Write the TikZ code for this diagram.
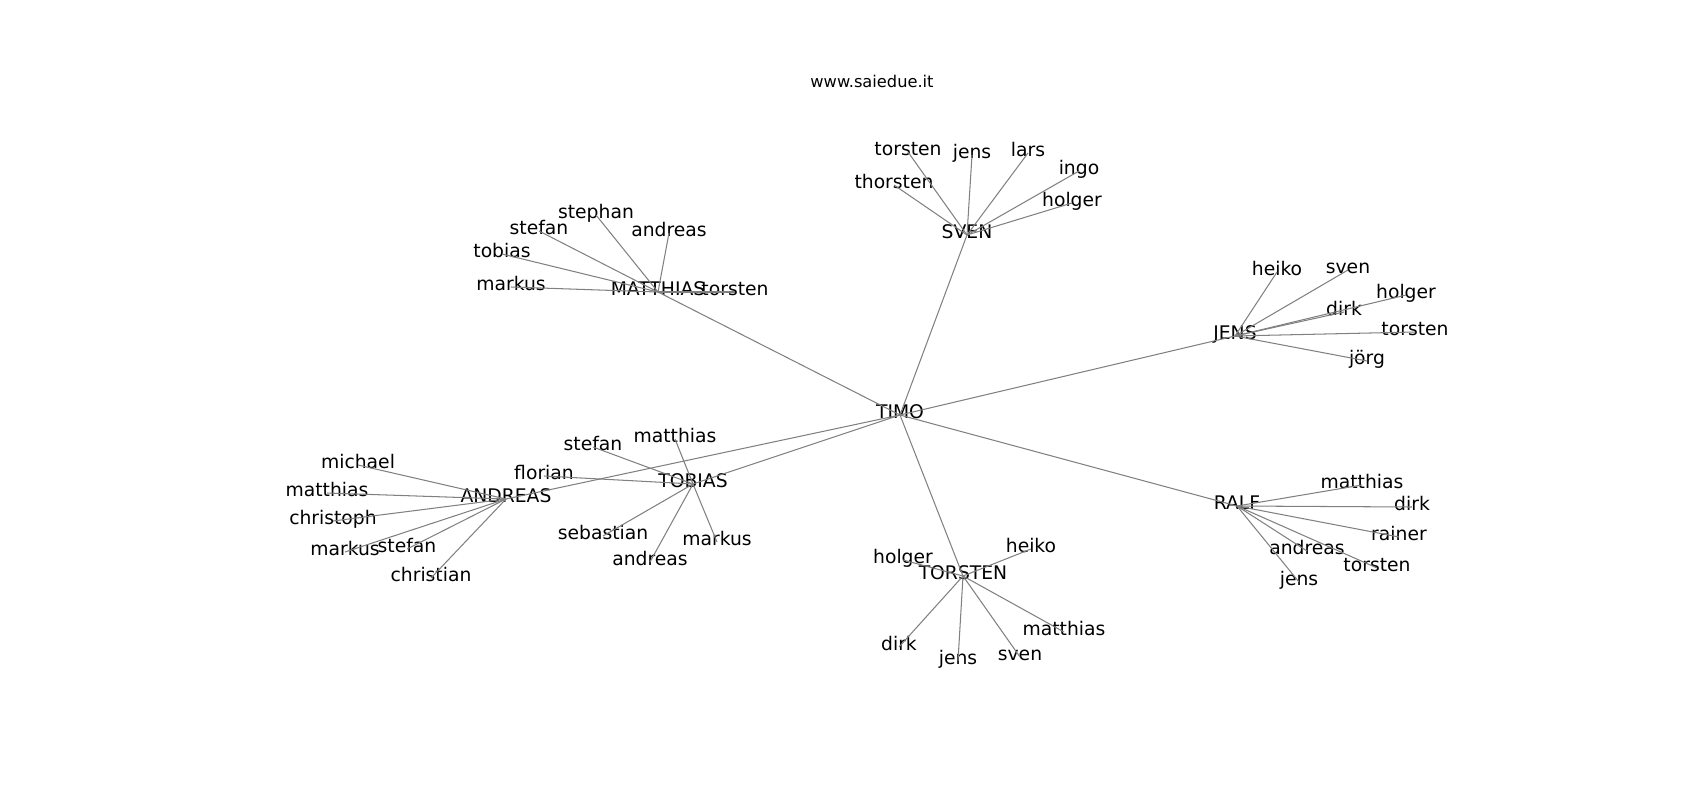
\documentclass[tikz,border=0pt]{standalone}
\usepackage{fontspec}
\setmainfont{DejaVu Sans}
\begin{document}
\begin{tikzpicture}[x=0.72pt,y=-0.72pt]
\tikzstyle{every node}+=[inner sep=0pt]
\tikzstyle{person}=[font=\fontsize{13.5}{16}\selectfont,text height=0.76em,text depth=0.24em]
\tikzstyle{edge}=[draw={rgb,255:red,128;green,128;blue,128},line width=0.75pt]
\useasboundingbox (0,-4) rectangle (1700,796);
\node [font=\fontsize{11.7}{14}\selectfont] (title) at (872,77) {www.saiedue.it};
% hubs
\node [person] (timo) at (900,411) {TIMO};
\node [person] (matthias) at (658,288) {MATTHIAS};
\node [person] (sven) at (967,231) {SVEN};
\node [person] (jens) at (1235,332) {JENS};
\node [person] (ralf) at (1237,502) {RALF};
\node [person] (torsten) at (963,572) {TORSTEN};
\node [person] (tobias) at (693,480) {TOBIAS};
\node [person] (andreas) at (506,495) {ANDREAS};
% MATTHIAS
\node [person] (ma-stephan) at (596,211) {stephan};
\node [person] (ma-stefan) at (539,227) {stefan};
\node [person] (ma-andreas) at (669,229) {andreas};
\node [person] (ma-tobias) at (502,250) {tobias};
\node [person] (ma-markus) at (511,283) {markus};
\node [person] (ma-torsten) at (735,288) {torsten};
% SVEN
\node [person] (sv-torsten) at (908,148) {torsten};
\node [person] (sv-jens) at (972,151) {jens};
\node [person] (sv-lars) at (1028,149) {lars};
\node [person] (sv-ingo) at (1079,167) {ingo};
\node [person] (sv-holger) at (1072,199) {holger};
\node [person] (sv-thorsten) at (894,181) {thorsten};
% JENS
\node [person] (je-heiko) at (1277,268) {heiko};
\node [person] (je-sven) at (1348,266) {sven};
\node [person] (je-holger) at (1406,291) {holger};
\node [person] (je-dirk) at (1344,308) {dirk};
\node [person] (je-torsten) at (1415,328) {torsten};
\node [person] (je-joerg) at (1367,357) {jörg};
% RALF
\node [person] (ra-matthias) at (1362,481) {matthias};
\node [person] (ra-dirk) at (1412,503) {dirk};
\node [person] (ra-rainer) at (1399,533) {rainer};
\node [person] (ra-andreas) at (1307,547) {andreas};
\node [person] (ra-torsten) at (1377,564) {torsten};
\node [person] (ra-jens) at (1299,578) {jens};
% TORSTEN
\node [person] (to-holger) at (903,556) {holger};
\node [person] (to-heiko) at (1031,545) {heiko};
\node [person] (to-dirk) at (899,643) {dirk};
\node [person] (to-jens) at (958,657) {jens};
\node [person] (to-sven) at (1020,653) {sven};
\node [person] (to-matthias) at (1064,628) {matthias};
% TOBIAS
\node [person] (tb-matthias) at (675,435) {matthias};
\node [person] (tb-stefan) at (593,443) {stefan};
\node [person] (tb-florian) at (544,472) {florian};
\node [person] (tb-sebastian) at (603,532) {sebastian};
\node [person] (tb-andreas) at (650,558) {andreas};
\node [person] (tb-markus) at (717,538) {markus};
% ANDREAS
\node [person] (an-michael) at (358,461) {michael};
\node [person] (an-matthias) at (327,489) {matthias};
\node [person] (an-christoph) at (333,517) {christoph};
\node [person] (an-markus) at (345,548) {markus};
\node [person] (an-stefan) at (407,545) {stefan};
\node [person] (an-christian) at (431,574) {christian};
% edges
\draw [edge] (timo.center) -- (matthias.center);
\draw [edge] (timo.center) -- (sven.center);
\draw [edge] (timo.center) -- (jens.center);
\draw [edge] (timo.center) -- (ralf.center);
\draw [edge] (timo.center) -- (torsten.center);
\draw [edge] (timo.center) -- (tobias.center);
\draw [edge] (timo.center) -- (andreas.center);
\draw [edge] (matthias.center) -- (ma-stephan.center);
\draw [edge] (matthias.center) -- (ma-stefan.center);
\draw [edge] (matthias.center) -- (ma-andreas.center);
\draw [edge] (matthias.center) -- (ma-tobias.center);
\draw [edge] (matthias.center) -- (ma-markus.center);
\draw [edge] (matthias.center) -- (ma-torsten.center);
\draw [edge] (sven.center) -- (sv-torsten.center);
\draw [edge] (sven.center) -- (sv-jens.center);
\draw [edge] (sven.center) -- (sv-lars.center);
\draw [edge] (sven.center) -- (sv-ingo.center);
\draw [edge] (sven.center) -- (sv-holger.center);
\draw [edge] (sven.center) -- (sv-thorsten.center);
\draw [edge] (jens.center) -- (je-heiko.center);
\draw [edge] (jens.center) -- (je-sven.center);
\draw [edge] (jens.center) -- (je-holger.center);
\draw [edge] (jens.center) -- (je-dirk.center);
\draw [edge] (jens.center) -- (je-torsten.center);
\draw [edge] (jens.center) -- (je-joerg.center);
\draw [edge] (ralf.center) -- (ra-matthias.center);
\draw [edge] (ralf.center) -- (ra-dirk.center);
\draw [edge] (ralf.center) -- (ra-rainer.center);
\draw [edge] (ralf.center) -- (ra-andreas.center);
\draw [edge] (ralf.center) -- (ra-torsten.center);
\draw [edge] (ralf.center) -- (ra-jens.center);
\draw [edge] (torsten.center) -- (to-holger.center);
\draw [edge] (torsten.center) -- (to-heiko.center);
\draw [edge] (torsten.center) -- (to-dirk.center);
\draw [edge] (torsten.center) -- (to-jens.center);
\draw [edge] (torsten.center) -- (to-sven.center);
\draw [edge] (torsten.center) -- (to-matthias.center);
\draw [edge] (tobias.center) -- (tb-matthias.center);
\draw [edge] (tobias.center) -- (tb-stefan.center);
\draw [edge] (tobias.center) -- (tb-florian.center);
\draw [edge] (tobias.center) -- (tb-sebastian.center);
\draw [edge] (tobias.center) -- (tb-andreas.center);
\draw [edge] (tobias.center) -- (tb-markus.center);
\draw [edge] (andreas.center) -- (an-michael.center);
\draw [edge] (andreas.center) -- (an-matthias.center);
\draw [edge] (andreas.center) -- (an-christoph.center);
\draw [edge] (andreas.center) -- (an-markus.center);
\draw [edge] (andreas.center) -- (an-stefan.center);
\draw [edge] (andreas.center) -- (an-christian.center);
\end{tikzpicture}
\end{document}
